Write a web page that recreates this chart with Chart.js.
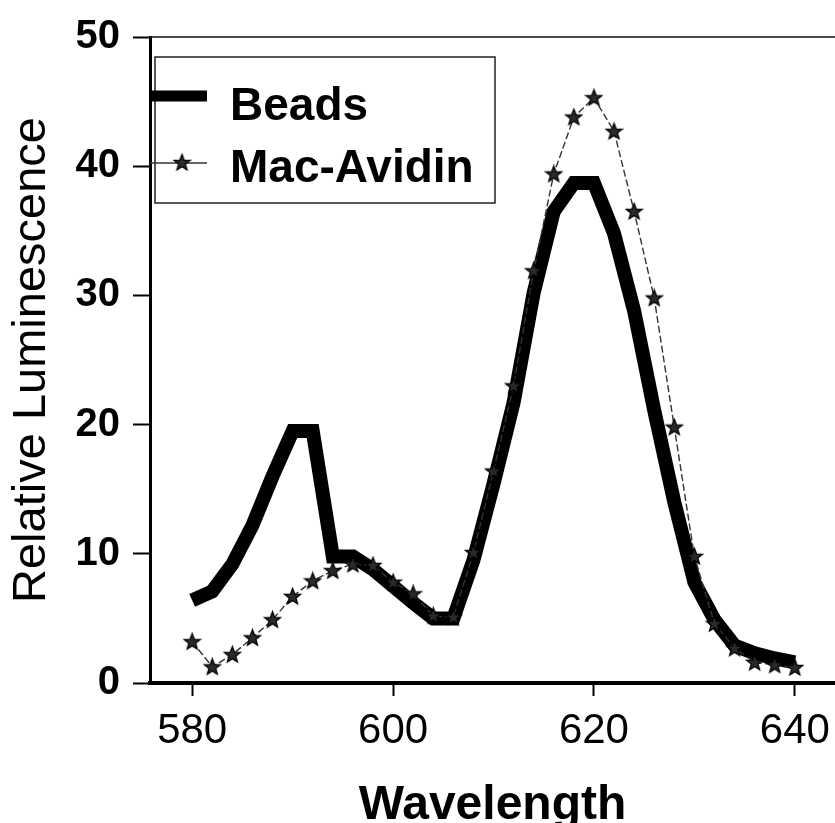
<!DOCTYPE html>
<html>
<head>
<meta charset="utf-8">
<script src="https://cdn.jsdelivr.net/npm/chart.js@4"></script>
<style>
  html, body { margin: 0; padding: 0; background: #fff; }
  #wrap { width: 835px; height: 823px; }
</style>
</head>
<body>
<div id="wrap"><canvas id="chart" width="835" height="823"></canvas></div>
<script>
// values
const wavelengths = [580, 582, 584, 586, 588, 590, 592, 594, 596, 598, 600, 602, 604, 606, 608, 610,
                     612, 614, 616, 618, 620, 622, 624, 626, 628, 630, 632, 634, 636, 638, 640];
const beads =       [6.4, 7.1, 9.2, 12.2, 16.0, 19.5, 19.5, 9.8, 9.8, 8.8, 7.5, 6.2, 5.0, 5.0, 9.5, 15.4,
                     21.7, 30.2, 36.5, 38.7, 38.7, 34.8, 28.8, 21.1, 14.0, 7.8, 4.9, 2.9, 2.3, 1.9, 1.6];
const macAvidin =   [3.2, 1.25, 2.2, 3.5, 4.9, 6.7, 7.9, 8.7, 9.2, 9.1, 7.8, 6.9, 5.2, 5.1, 10.1, 16.4,
                     23.0, 31.9, 39.4, 43.8, 45.3, 42.7, 36.5, 29.8, 19.8, 9.8, 4.6, 2.7, 1.6, 1.4, 1.2];
const xTicks = [580, 600, 620, 640];
const yTicks = [0, 10, 20, 30, 40, 50];
const seriesNames = ['Beads', 'Mac-Avidin'];

const FONT = '"Liberation Sans", Arial, Helvetica, sans-serif';

// 5-point star marker
const star = document.createElement('canvas');
star.width = 19; star.height = 19;
(() => {
  const s = star.getContext('2d');
  s.beginPath();
  for (let i = 0; i < 10; i++) {
    const r = i % 2 ? 3.6 : 8.5;
    const a = -Math.PI / 2 + i * Math.PI / 5;
    s.lineTo(9.5 + r * Math.cos(a), 10 + r * Math.sin(a));
  }
  s.closePath();
  s.fillStyle = '#2a2a2a';
  s.fill();
  s.lineWidth = 1.3;
  s.strokeStyle = '#000';
  s.stroke();
})();

const toPoints = ys => wavelengths.map((x, i) => ({ x, y: ys[i] }));

// top frame line
const framePlugin = {
  id: 'frame',
  afterDraw(chart) {
    const { ctx, chartArea: a } = chart;
    ctx.save();
    ctx.strokeStyle = '#111';
    ctx.lineWidth = 1.5;
    ctx.beginPath();
    ctx.moveTo(a.left, a.top);
    ctx.lineTo(a.right, a.top);
    ctx.stroke();
    ctx.restore();
  }
};

// boxed legend like the original
const legendPlugin = {
  id: 'boxLegend',
  afterDatasetsDraw(chart) {
    const ctx = chart.ctx;
    ctx.save();
    ctx.fillStyle = '#fff';
    ctx.fillRect(155, 57, 340, 146);
    ctx.strokeStyle = '#222';
    ctx.lineWidth = 1.5;
    ctx.strokeRect(155, 57, 340, 146);

    ctx.strokeStyle = '#000';
    ctx.lineWidth = 11;
    ctx.beginPath(); ctx.moveTo(150, 96); ctx.lineTo(207, 96); ctx.stroke();

    ctx.strokeStyle = '#333';
    ctx.lineWidth = 1.5;
    ctx.beginPath(); ctx.moveTo(150, 163); ctx.lineTo(207, 163); ctx.stroke();
    ctx.drawImage(star, 182 - 9.5, 163 - 10);

    ctx.fillStyle = '#000';
    ctx.font = 'bold 46px ' + FONT;
    ctx.textBaseline = 'alphabetic';
    ctx.fillText(seriesNames[0], 230, 120);
    ctx.fillText(seriesNames[1], 230, 182);
    ctx.restore();
  }
};

new Chart(document.getElementById('chart'), {
  type: 'line',
  data: {
    datasets: [
      {
        label: seriesNames[0],
        data: toPoints(beads),
        borderColor: '#000',
        borderWidth: 14,
        borderJoinStyle: 'miter',
        pointRadius: 0,
        tension: 0,
        fill: false,
        order: 2
      },
      {
        label: seriesNames[1],
        data: toPoints(macAvidin),
        borderColor: '#333',
        borderWidth: 1.4,
        borderDash: [7, 3],
        pointStyle: star,
        pointRadius: 8,
        tension: 0,
        fill: false,
        order: 1
      }
    ]
  },
  options: {
    responsive: false,
    animation: false,
    devicePixelRatio: 1,
    layout: { autoPadding: false, padding: { top: 32, right: 0, left: 0, bottom: 0 } },
    plugins: { legend: { display: false }, tooltip: { enabled: false } },
    scales: {
      x: {
        type: 'linear',
        min: 575.8,
        max: 644,
        afterBuildTicks: s => { s.ticks = xTicks.map(v => ({ value: v })); },
        afterFit: s => { s.height = 140; s.paddingLeft = 0; s.paddingRight = 0; },
        grid: { drawOnChartArea: false, drawTicks: true, tickLength: 13, tickWidth: 2, tickColor: '#000' },
        border: { display: true, color: '#000', width: 4 },
        ticks: { color: '#000', padding: 0, maxRotation: 0,
                 font: { family: FONT, size: 42, lineHeight: 1.68 } },
        title: { display: true, text: 'Wavelength', color: '#000', padding: { top: 0, bottom: 0 },
                 font: { family: FONT, size: 48, weight: 'bold', lineHeight: 0.7 } }
      },
      y: {
        min: 0,
        max: 50,
        afterBuildTicks: s => { s.ticks = yTicks.map(v => ({ value: v })); },
        afterFit: s => { s.width = 150; },
        grid: { drawOnChartArea: false, drawTicks: true, tickLength: 17, tickWidth: 2, tickColor: '#000' },
        border: { display: true, color: '#000', width: 3 },
        ticks: { color: '#000', padding: 13, font: { family: FONT, size: 40, weight: 'bold' } },
        title: { display: true, text: 'Relative Luminescence', color: '#000', padding: { top: 6, bottom: 0 },
                 font: { family: FONT, size: 47, lineHeight: 1.1 } }
      }
    }
  },
  plugins: [framePlugin, legendPlugin]
});
</script>
</body>
</html>
